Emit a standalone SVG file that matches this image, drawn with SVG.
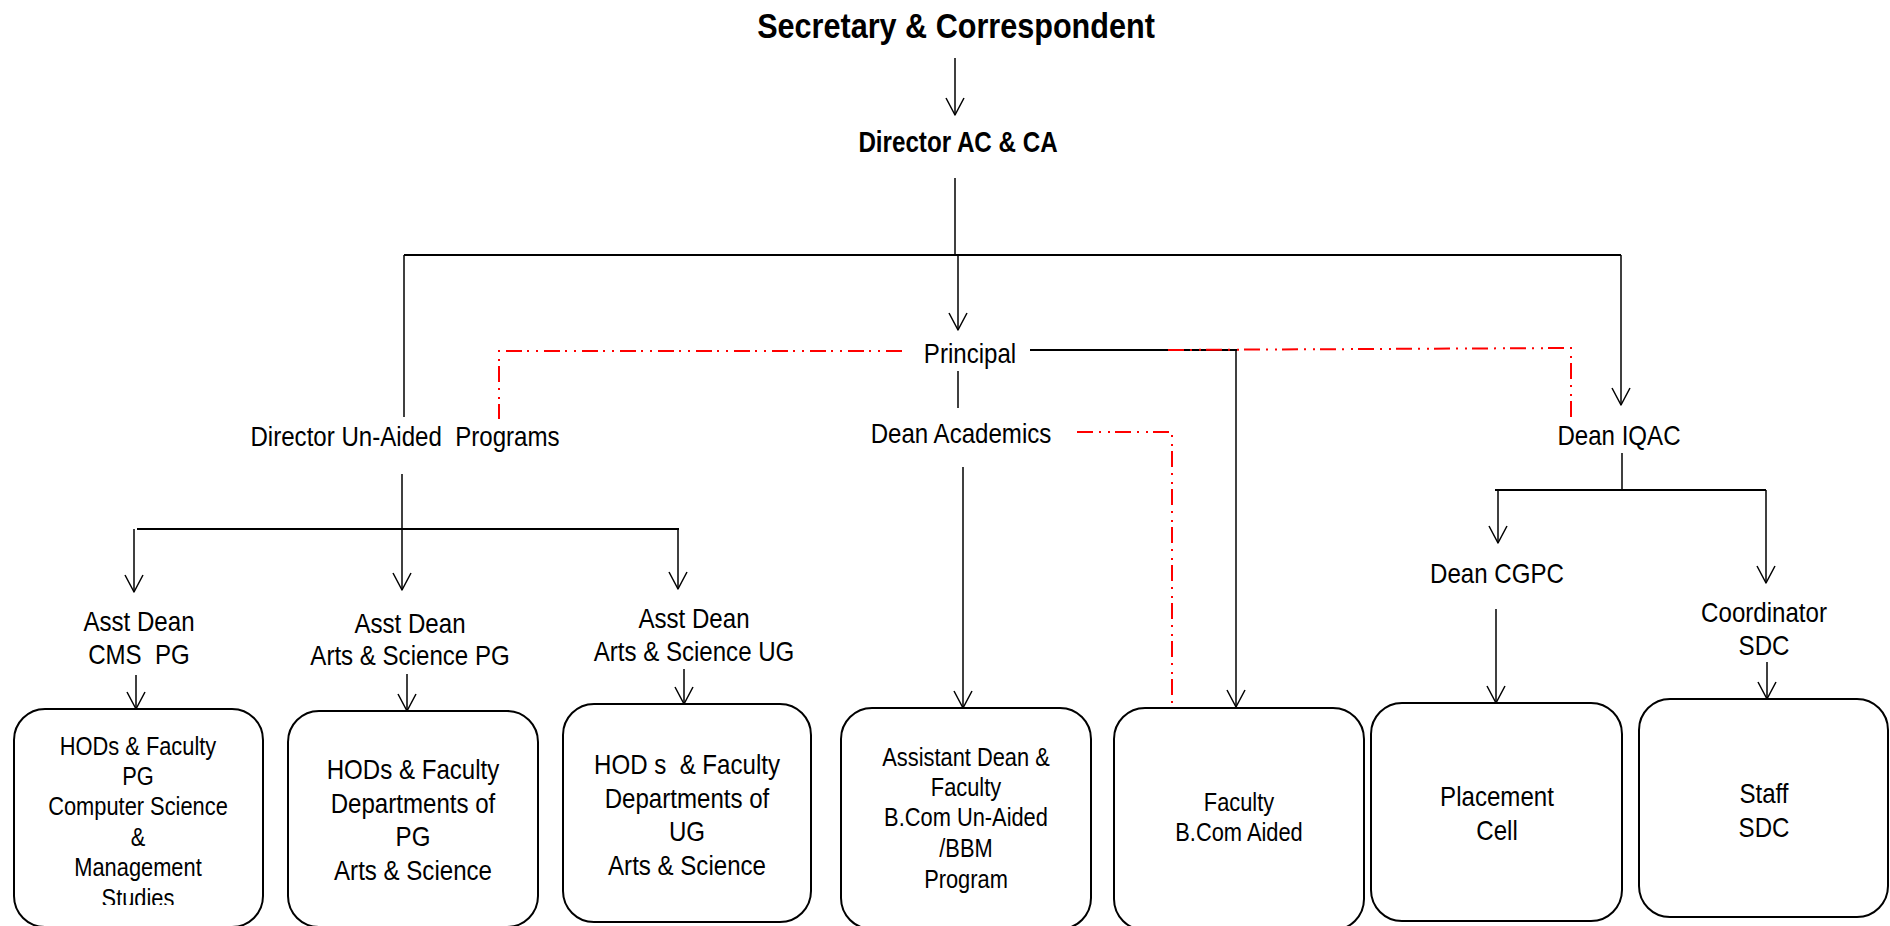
<svg xmlns="http://www.w3.org/2000/svg" width="1890" height="926" viewBox="0 0 1890 926">
<defs>
<style>
.t{font-family:"Liberation Sans",Arial,sans-serif;text-anchor:middle;fill:#000}
.b{font-weight:bold}
.l{font-size:28.5px}
.s{font-size:26px}
.c{fill:none;stroke:#000;stroke-width:1.5}
.bar{stroke-width:2}
.r{fill:none;stroke:#f00;stroke-width:2;stroke-dasharray:16 6 2 7 2 5}
.box{fill:#fff;stroke:#000;stroke-width:2}
.a{marker-end:url(#ah)}
</style>
<marker id="ah" markerUnits="userSpaceOnUse" markerWidth="24" markerHeight="24" viewBox="-20 -12 24 24" refX="0" refY="0" orient="auto">
<path d="M-17,-9 L0,0 L-17,9" fill="none" stroke="#000" stroke-width="1.5" stroke-linejoin="round"/>
</marker>
<clipPath id="clip1"><rect x="0" y="700" width="300" height="205"/></clipPath>
</defs>
<rect width="1890" height="926" fill="#fff"/>

<g id="connectors">
<line class="c a" x1="955" y1="58" x2="955" y2="115"/>
<line class="c" x1="955" y1="178" x2="955" y2="256"/>
<line class="c bar" x1="404" y1="255" x2="1621" y2="255"/>
<line class="c" x1="404" y1="255" x2="404" y2="417"/>
<line class="c a" x1="958" y1="255" x2="958" y2="330"/>
<line class="c a" x1="1621" y1="255" x2="1621" y2="405"/>
<line class="c bar" x1="1030" y1="350" x2="1237" y2="350"/>
<line class="c a" x1="1236" y1="350" x2="1236" y2="707"/>
<line class="c" x1="958" y1="371" x2="958" y2="408"/>
<line class="c a" x1="963" y1="467" x2="963" y2="708"/>
<line class="c" x1="402" y1="474" x2="402" y2="529"/>
<line class="c bar" x1="137" y1="529" x2="679" y2="529"/>
<line class="c a" x1="134" y1="529" x2="134" y2="592"/>
<line class="c a" x1="402" y1="529" x2="402" y2="590"/>
<line class="c a" x1="678" y1="529" x2="678" y2="589"/>
<line class="c a" x1="136" y1="675" x2="136" y2="709"/>
<line class="c a" x1="407" y1="674" x2="407" y2="711"/>
<line class="c a" x1="684" y1="669" x2="684" y2="704"/>
<line class="c" x1="1622" y1="453" x2="1622" y2="490"/>
<line class="c bar" x1="1495" y1="490" x2="1766" y2="490"/>
<line class="c a" x1="1498" y1="490" x2="1498" y2="543"/>
<line class="c a" x1="1766" y1="490" x2="1766" y2="583"/>
<line class="c a" x1="1496" y1="609" x2="1496" y2="703"/>
<line class="c a" x1="1767" y1="662" x2="1767" y2="699"/>
<polyline class="r" points="902,351 499,351 499,419"/>
<polyline class="r" points="1168,350 1571,348 1571,420"/>
<polyline class="r" points="1077,432 1172,432 1172,708"/>
</g>

<g id="secretary">
<text class="t b" font-size="36" transform="translate(956 38) scale(.85 1)">Secretary &amp; Correspondent</text>
</g>
<g id="director-ac-ca">
<text class="t b" font-size="29" transform="translate(958 152) scale(.834 1)">Director AC &amp; CA</text>
</g>
<g id="principal">
<text class="t l" transform="translate(970 363) scale(.845 1)">Principal</text>
</g>
<g id="dean-academics">
<text class="t l" transform="translate(961 443) scale(.845 1)">Dean Academics</text>
</g>
<g id="director-unaided">
<text class="t l" xml:space="preserve" transform="translate(405 446) scale(.845 1)">Director Un-Aided  Programs</text>
</g>
<g id="dean-iqac">
<text class="t l" transform="translate(1619 445) scale(.845 1)">Dean IQAC</text>
</g>
<g id="dean-cgpc">
<text class="t l" transform="translate(1497 583) scale(.845 1)">Dean CGPC</text>
</g>
<g id="coordinator-sdc">
<text class="t l" transform="translate(1764 622) scale(.845 1)"><tspan x="0" y="0">Coordinator</tspan><tspan x="0" y="33">SDC</tspan></text>
</g>
<g id="asst-dean-cms">
<text class="t l" xml:space="preserve" transform="translate(139 631) scale(.845 1)"><tspan x="0" y="0">Asst Dean</tspan><tspan x="0" y="33">CMS  PG</tspan></text>
</g>
<g id="asst-dean-pg">
<text class="t l" transform="translate(410 633) scale(.845 1)"><tspan x="0" y="0">Asst Dean</tspan><tspan x="0" y="32">Arts &amp; Science PG</tspan></text>
</g>
<g id="asst-dean-ug">
<text class="t l" transform="translate(694 628) scale(.845 1)"><tspan x="0" y="0">Asst Dean</tspan><tspan x="0" y="33">Arts &amp; Science UG</tspan></text>
</g>

<g id="box-hods-pg-cs">
<rect class="box" x="14" y="709" width="249" height="218" rx="31"/>
<g clip-path="url(#clip1)">
<text class="t s" transform="translate(138 755) scale(.84 1)"><tspan x="0" y="0">HODs &amp; Faculty</tspan><tspan x="0" y="30">PG</tspan><tspan x="0" y="60">Computer Science</tspan><tspan x="0" y="91">&amp;</tspan><tspan x="0" y="121">Management</tspan><tspan x="0" y="152">Studies</tspan></text>
</g>
</g>
<g id="box-hods-pg-as">
<rect class="box" x="288" y="711" width="250" height="216" rx="31"/>
<text class="t l" transform="translate(413 779) scale(.845 1)"><tspan x="0" y="0">HODs &amp; Faculty</tspan><tspan x="0" y="34">Departments of</tspan><tspan x="0" y="67">PG</tspan><tspan x="0" y="101">Arts &amp; Science</tspan></text>
</g>
<g id="box-hods-ug">
<rect class="box" x="563" y="704" width="248" height="218" rx="31"/>
<text class="t l" xml:space="preserve" transform="translate(687 774) scale(.845 1)"><tspan x="0" y="0">HOD s  &amp; Faculty</tspan><tspan x="0" y="34">Departments of</tspan><tspan x="0" y="67">UG</tspan><tspan x="0" y="101">Arts &amp; Science</tspan></text>
</g>
<g id="box-bcom-unaided">
<rect class="box" x="841" y="708" width="250" height="221" rx="31"/>
<text class="t s" transform="translate(966 766) scale(.84 1)"><tspan x="0" y="0">Assistant Dean &amp;</tspan><tspan x="0" y="30">Faculty</tspan><tspan x="0" y="60">B.Com Un-Aided</tspan><tspan x="0" y="91">/BBM</tspan><tspan x="0" y="122">Program</tspan></text>
</g>
<g id="box-bcom-aided">
<rect class="box" x="1114" y="708" width="250" height="222" rx="31"/>
<text class="t s" transform="translate(1239 811) scale(.84 1)"><tspan x="0" y="0">Faculty</tspan><tspan x="0" y="30">B.Com Aided</tspan></text>
</g>
<g id="box-placement">
<rect class="box" x="1371" y="703" width="251" height="218" rx="31"/>
<text class="t l" transform="translate(1497 806) scale(.845 1)"><tspan x="0" y="0">Placement</tspan><tspan x="0" y="34">Cell</tspan></text>
</g>
<g id="box-staff-sdc">
<rect class="box" x="1639" y="699" width="249" height="218" rx="31"/>
<text class="t l" transform="translate(1764 803) scale(.845 1)"><tspan x="0" y="0">Staff</tspan><tspan x="0" y="34">SDC</tspan></text>
</g>
</svg>
